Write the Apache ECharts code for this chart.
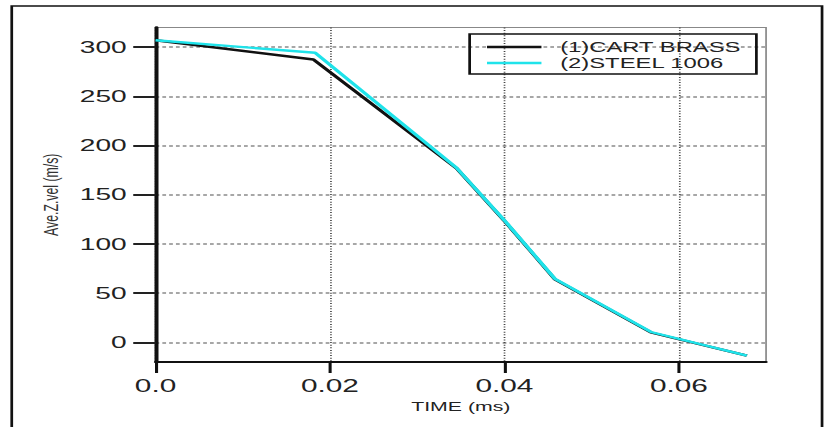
<!DOCTYPE html>
<html>
<head>
<meta charset="utf-8">
<title>Ave.Z.vel vs TIME</title>
<script src="https://cdn.jsdelivr.net/npm/echarts@6/dist/echarts.min.js"></script>
<style>
    html, body { margin: 0; padding: 0; background: #fff; overflow: hidden; }
    /* the source figure is a scan that was stretched sideways, so the chart is laid out
       narrow and widened with css (svg renderer keeps it sharp) */
    #chart { width: 486px; height: 427px; transform: scaleX(1.7016); transform-origin: 0 0; }
</style>
</head>
<body>
<div id="chart"></div>
<script>
    // CART BRASS
    var brassTime = [0, 0.0181, 0.0345, 0.0400, 0.0458, 0.0568, 0.0678];
    var brassVel = [307, 287.5, 177, 123.5, 64, 10, -13.5];
    // STEEL 1006
    var steelTime = [0, 0.0183, 0.0345, 0.0400, 0.0458, 0.0568, 0.0678];
    var steelVel = [307, 294.3, 177.5, 124, 64.5, 10.5, -13.5];

    var xTicks = [0, 0.02, 0.04, 0.06];
    var yTicks = [0, 50, 100, 150, 200, 250, 300];

    var seriesNames = ['(1)CART BRASS', '(2)STEEL 1006'];

    function pairs(xs, ys) {
        return xs.map(function (x, i) {
            return [x, ys[i]];
        });
    }

    var font = 'Liberation Sans, Arial, sans-serif';

    var myChart = echarts.init(document.getElementById('chart'), null, { renderer: 'svg' });

    var option = {
        animation: false,
        backgroundColor: '#fff',
        graphic: [{
            // outer frame of the figure
            type: 'rect',
            shape: { x: 6.9, y: 6, width: 476.2, height: 440 },
            style: { fill: 'none', stroke: '#111', lineWidth: 1.6 },
            silent: true
        }],
        legend: {
            orient: 'vertical',
            left: 276,
            top: 34,
            padding: [6, 9, 4, 9],
            borderColor: '#111',
            borderWidth: 1.6,
            itemGap: 2,
            itemWidth: 32,
            itemHeight: 14,
            itemStyle: { opacity: 0 },   // line only, no dot
            lineStyle: { width: 2.4 },
            textStyle: {
                fontFamily: font,
                fontSize: 14,
                color: '#222',
                padding: [0, 0, 0, 6]
            },
            data: seriesNames
        },
        grid: {
            show: true,
            left: 91.4,
            right: 35.8,
            top: 27.5,
            bottom: 65,
            borderColor: '#888',
            borderWidth: 1
        },
        xAxis: {
            type: 'value',
            min: 0,
            max: 0.07,
            name: 'TIME (ms)',
            nameLocation: 'middle',
            nameGap: 37,
            nameTextStyle: {
                fontFamily: font,
                fontSize: 12.5,
                color: '#222'
            },
            axisLine: {
                onZero: false,
                lineStyle: { color: '#111', width: 2 }
            },
            axisTick: {
                customValues: xTicks,
                length: 11,
                lineStyle: { color: '#111', width: 1.8 }
            },
            axisLabel: {
                customValues: xTicks,
                margin: 15,
                fontFamily: font,
                fontSize: 17.5,
                color: '#222',
                formatter: function (v) {
                    return v === 0 ? '0.0' : String(v);
                }
            },
            splitLine: {
                show: true,
                lineStyle: { color: '#444', width: 1, type: [1, 1.6] }
            }
        },
        yAxis: {
            type: 'value',
            min: -20,
            max: 320,
            name: 'Ave.Z.vel (m/s)',
            nameLocation: 'middle',
            nameGap: 54,
            nameTextStyle: {
                fontFamily: font,
                fontSize: 12.3,
                color: '#333'
            },
            axisLine: {
                onZero: false,
                lineStyle: { color: '#111', width: 2.3 }
            },
            axisTick: {
                customValues: yTicks,
                length: 13.1,
                lineStyle: { color: '#222', width: 2 }
            },
            axisLabel: {
                customValues: yTicks,
                margin: 17,
                fontFamily: font,
                fontSize: 16.5,
                color: '#222'
            },
            splitLine: {
                show: true,
                lineStyle: { color: '#8a8a8a', width: 1.5, type: [2.2, 1.8] }
            }
        },
        series: [{
            name: seriesNames[0],
            type: 'line',
            symbol: 'none',
            color: '#111',
            lineStyle: { color: '#111', width: 2.4 },
            data: pairs(brassTime, brassVel)
        }, {
            name: seriesNames[1],
            type: 'line',
            symbol: 'none',
            color: '#1fe3ea',
            lineStyle: { color: '#1fe3ea', width: 2.4 },
            data: pairs(steelTime, steelVel)
        }]
    };

    myChart.setOption(option);
</script>
</body>
</html>
